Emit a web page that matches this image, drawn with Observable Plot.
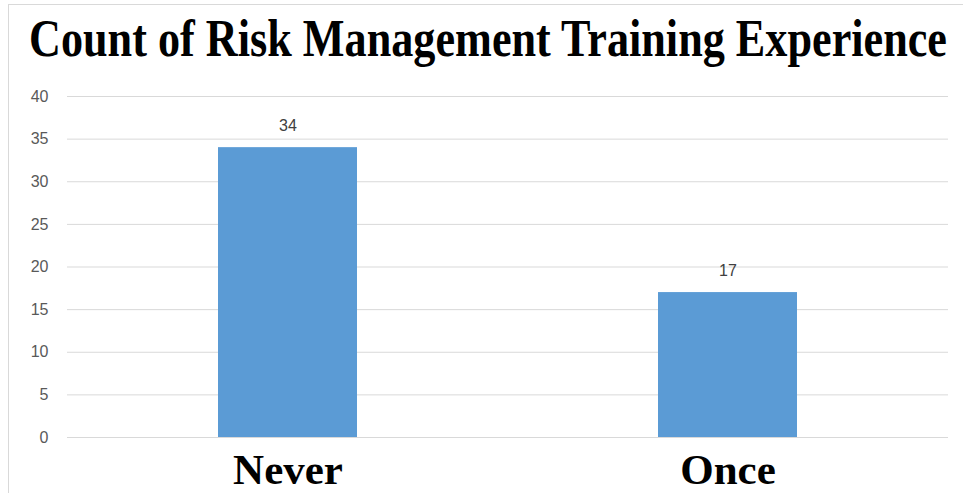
<!DOCTYPE html>
<html>
<head>
<meta charset="utf-8">
<script src="https://cdn.jsdelivr.net/npm/d3@7"></script>
<script src="https://cdn.jsdelivr.net/npm/@observablehq/plot@0.6"></script>
<style>
  html, body { margin: 0; padding: 0; background: #fff; }
  #wrap { position: relative; width: 963px; height: 493px; overflow: hidden; }
  #frame { position: absolute; left: 8px; top: 4px; width: 1000px; height: 600px;
           border-left: 1px solid #d9d9d9; border-top: 1px solid #d9d9d9; pointer-events: none; }
  #title { position: absolute; left: 488px; top: 4px; height: 70px;
           font-family: "Liberation Serif", "Times New Roman", serif; font-weight: bold;
           font-size: 52px; line-height: 70px; color: #000; white-space: nowrap;
           transform: translateX(-50%) scaleX(0.85); transform-origin: center; }
  #chart { position: absolute; left: 0; top: 70px; }
</style>
</head>
<body>
<div id="wrap">
  <div id="frame"></div>
  <div id="title">Count of Risk Management Training Experience</div>
  <div id="chart"></div>
</div>
<script>
const categories = ["Never", "Once"];
const counts = [34, 17];
const yTicks = [0, 5, 10, 15, 20, 25, 30, 35, 40];

const data = categories.map((c, i) => ({category: c, count: counts[i]}));

const chart = Plot.plot({
  width: 963,
  height: 423,
  marginLeft: 67,
  marginRight: 15,
  marginTop: 26,
  marginBottom: 56,
  style: {background: "transparent", overflow: "visible"},
  x: {domain: categories, paddingInner: 0.684, paddingOuter: 0.342, label: null},
  y: {domain: [0, 40], ticks: yTicks, label: null},
  marks: [
    Plot.gridY(yTicks, {stroke: "#d9d9d9", strokeOpacity: 1, strokeWidth: 1}),
    Plot.barY(data, {x: "category", y: "count", fill: "#5b9bd5"}),
    Plot.text(data, {x: "category", y: "count", text: d => String(d.count), dy: -17,
      lineAnchor: "bottom", fontSize: 16, fill: "#404040",
      fontFamily: "Liberation Sans, Arial, sans-serif"}),
    Plot.axisY(yTicks, {tickSize: 0, tickPadding: 19, fontSize: 16, fill: "#595959",
      fontFamily: "Liberation Sans, Arial, sans-serif", label: null}),
    Plot.axisX({tickSize: 0, tickPadding: 16, fontSize: 43, fontWeight: "bold", fill: "#000",
      fontFamily: "Liberation Serif, Times New Roman, serif", label: null})
  ]
});
document.getElementById("chart").appendChild(chart);
</script>
</body>
</html>
